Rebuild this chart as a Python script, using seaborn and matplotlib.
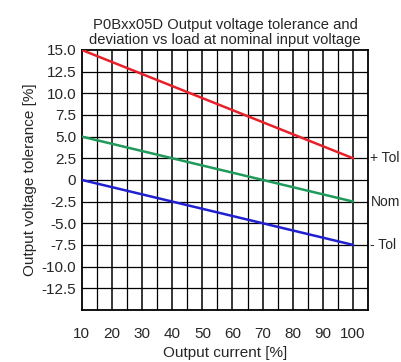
import matplotlib
matplotlib.use("Agg")
import matplotlib.pyplot as plt
import seaborn as sns
import pandas as pd
import numpy as np

current = [10, 100]
plus_tol = [15.0, 2.5]
nominal = [5.0, -2.5]
minus_tol = [0.0, -7.5]
series_names = ["+ Tol", "Nom", "- Tol"]
series_colors = ["#e8202a", "#1f9a5a", "#2020d0"]
y_ticks = [15.0, 12.5, 10.0, 7.5, 5.0, 2.5, 0, -2.5, -5.0, -7.5, -10.0, -12.5]
y_tick_labels = ["15.0", "12.5", "10.0", "7.5", "5.0", "2.5", "0", "-2.5", "-5.0", "-7.5", "-10.0", "-12.5"]
x_ticks = [10, 20, 30, 40, 50, 60, 70, 80, 90, 100]

sns.set_style("white")
plt.rcParams['font.family'] = ['Liberation Sans', 'DejaVu Sans']

df = pd.DataFrame({
    "current": current * 3,
    "value": plus_tol + nominal + minus_tol,
    "series": [series_names[0]] * 2 + [series_names[1]] * 2 + [series_names[2]] * 2,
})

fig = plt.figure(figsize=(4.01, 3.62), dpi=100)
ax = fig.add_axes([0.204, 0.144, 0.714, 0.718])

ax.set_xlim(10, 105)
ax.set_ylim(-15, 15)
for xv in np.arange(15, 105, 5):
    ax.axvline(xv, color="black", lw=1.1 if xv % 10 == 0 else 0.9, zorder=1)
for yv in np.arange(-12.5, 15, 2.5):
    ax.axhline(yv, color="black", lw=0.9, zorder=1)

sns.lineplot(data=df, x="current", y="value", hue="series", palette=series_colors,
             hue_order=series_names, ax=ax, legend=False, lw=1.8, zorder=3)

for name, vals in zip(series_names, [plus_tol, nominal, minus_tol]):
    ax.text(1.008, (vals[-1] + 15) / 30, name, fontsize=10, va="center", ha="left",
            transform=ax.transAxes, clip_on=False)

ax.set_xticks(x_ticks)
ax.set_xticklabels([str(v) for v in x_ticks], fontsize=11)
ax.set_yticks(y_ticks)
ax.set_yticklabels(y_tick_labels, fontsize=11)
ax.tick_params(axis="both", length=0, pad=4)
ax.tick_params(axis="x", pad=12)
for s in ax.spines.values():
    s.set_color("black")
    s.set_linewidth(1.3)
ax.set_xlabel("Output current [%]", fontsize=11, labelpad=4)
ax.set_ylabel("Output voltage tolerance [%]", fontsize=11, labelpad=3)
ax.set_title("P0Bxx05D Output voltage tolerance and\ndeviation vs load at nominal input voltage",
             fontsize=10.6, pad=4, linespacing=1.1)

fig.savefig("out.png", dpi=100)
